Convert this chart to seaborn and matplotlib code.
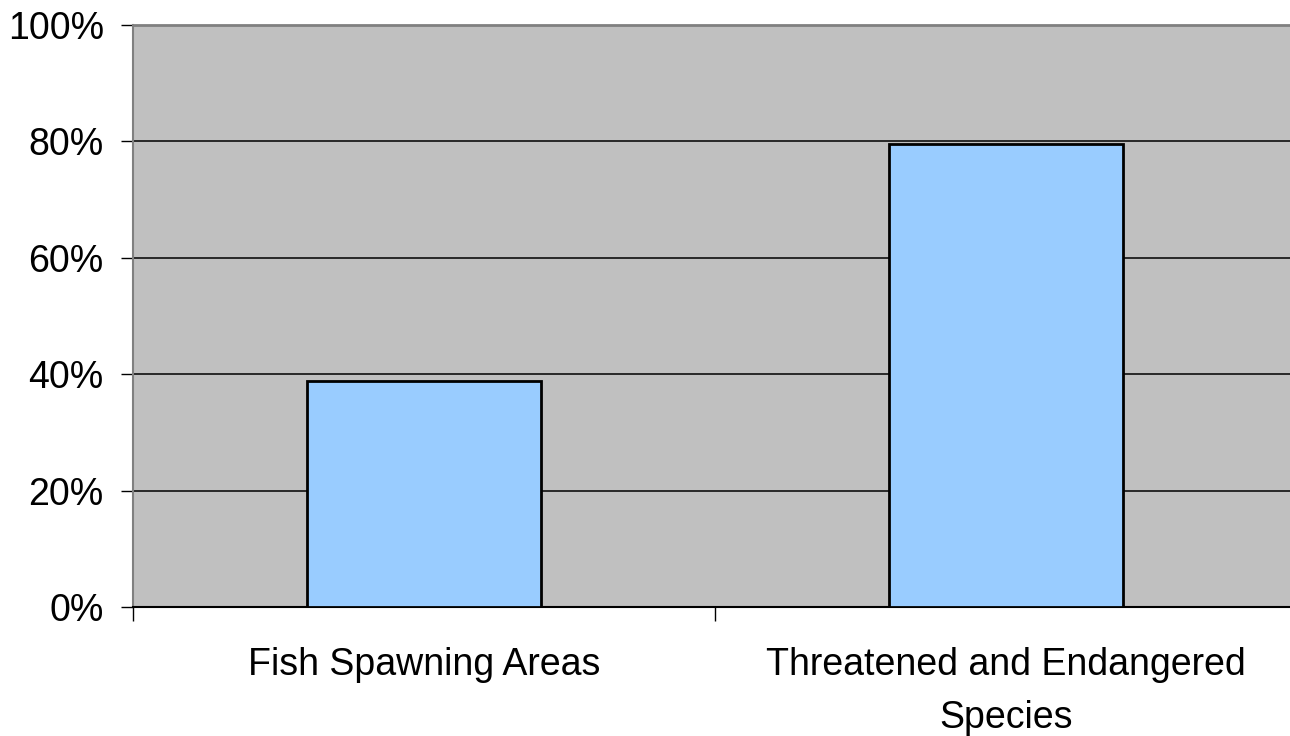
import matplotlib
matplotlib.use("Agg")
import matplotlib.pyplot as plt
import seaborn as sns
import numpy as np
import pandas as pd
from matplotlib.ticker import FixedLocator, FuncFormatter

categories = ["Fish Spawning Areas", "Threatened and Endangered\nSpecies"]
values = [38.9, 79.5]
yticks = [0, 20, 40, 60, 80, 100]

sns.set_theme(style="white")
plt.rcParams['font.family'] = ['Liberation Sans', 'DejaVu Sans']
plt.rcParams['text.color'] = 'black'
plt.rcParams['xtick.color'] = 'black'
plt.rcParams['ytick.color'] = 'black'
plt.rcParams['xtick.labelcolor'] = 'black'
plt.rcParams['ytick.labelcolor'] = 'black'

fig = plt.figure(figsize=(12.9, 7.36), dpi=100)
ax = fig.add_axes([133/1290, 1 - 607/736, (1297 - 133)/1290, (607 - 25)/736])
ax.set_facecolor("#C0C0C0")

df = pd.DataFrame({"cat": categories, "val": values})
sns.barplot(data=df, x="cat", y="val", color="#99CCFF", saturation=1,
            edgecolor="black", linewidth=2, width=0.403, ax=ax, zorder=3)

ax.set_ylim(0, 100)
ax.set_xlim(-0.5, 1.5)
ax.set_yticks(yticks)
ax.yaxis.set_major_formatter(FuncFormatter(lambda v, p: f"{int(v)}%"))
ax.grid(axis="y", color="black", linewidth=1.1, zorder=1)
ax.set_axisbelow(True)
ax.set_xlabel("")
ax.set_ylabel("")

ax.tick_params(axis="y", which="major", length=9, width=1, color="black",
               direction="out", pad=12, labelsize=27, left=True, labelcolor="black")
ax.tick_params(axis="x", which="major", length=0, pad=29, labelsize=27, labelcolor="black")
ax.xaxis.set_minor_locator(FixedLocator([-0.5, 0.5, 1.5]))
ax.tick_params(axis="x", which="minor", length=10, width=1, color="black",
               direction="out", bottom=True)
for lbl in ax.get_xticklabels():
    lbl.set_horizontalalignment("center")
    lbl.set_multialignment("center")
    lbl.set_linespacing(1.6)

ax.spines["left"].set_color("#808080")
ax.spines["left"].set_linewidth(1.5)
ax.spines["top"].set_color("#808080")
ax.spines["top"].set_linewidth(2)
ax.spines["bottom"].set_color("black")
ax.spines["bottom"].set_linewidth(1.5)
ax.spines["right"].set_visible(False)

fig.savefig("out.png", dpi=100, facecolor="white")
